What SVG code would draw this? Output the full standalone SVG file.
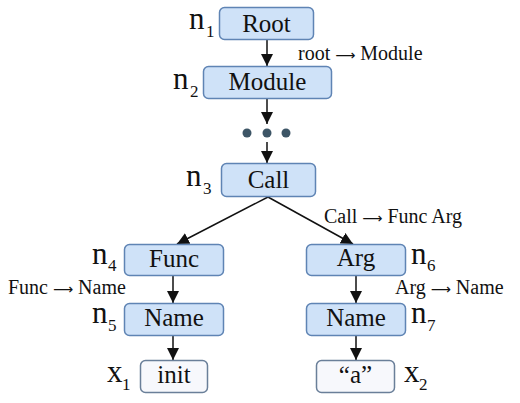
<svg xmlns="http://www.w3.org/2000/svg" width="520" height="403" viewBox="0 0 520 403">
<style>
.nb{fill:#cfe2f8;stroke:#5f84b4;stroke-width:1.5}
.lb{fill:#f7f8fc;stroke:#6a7f99;stroke-width:1.5}
.t{font-family:"Liberation Serif","Times New Roman",serif;fill:#111;}
.bt{font-size:25px;text-anchor:middle}
.el{font-size:20px}
.ar{font-family:"DejaVu Sans",sans-serif;font-size:14px}
.n{font-size:31px}
.s{font-size:17px}
.c line{stroke:#111;stroke-width:1.5;marker-end:url(#ah)}
</style>
<defs>
<marker id="ah" viewBox="0 0 12 12" refX="12" refY="6" markerWidth="12" markerHeight="12" markerUnits="userSpaceOnUse" orient="auto">
<path d="M0,0 L12,6 L0,12 z" fill="#111"/>
</marker>
</defs>
<rect width="520" height="403" fill="#fff"/>
<g class="c" id="connectors">
<line x1="267" y1="40" x2="267" y2="66"/>
<line x1="267" y1="99" x2="267" y2="124"/>
<line x1="267" y1="142" x2="267" y2="163"/>
<line x1="268" y1="197" x2="177" y2="244"/>
<line x1="268" y1="197" x2="353" y2="244"/>
<line x1="173" y1="276" x2="173" y2="303"/>
<line x1="173" y1="336" x2="173" y2="360"/>
<line x1="356" y1="276" x2="356" y2="303"/>
<line x1="356" y1="335" x2="356" y2="360"/>
</g>
<g id="dots" fill="#3d5566">
<circle cx="247" cy="133" r="4.5"/>
<circle cx="267" cy="133" r="4.5"/>
<circle cx="286" cy="133" r="4.5"/>
</g>
<g id="root">
<rect class="nb" x="219.5" y="7.5" width="94" height="32" rx="5"/>
<text class="t bt" x="266.5" y="32">Root</text>
<text class="t n" x="189" y="29">n</text><text class="t s" x="206" y="37">1</text>
</g>
<g id="module">
<rect class="nb" x="203.5" y="66.5" width="128" height="32" rx="5"/>
<text class="t bt" x="267.5" y="90">Module</text>
<text class="t n" x="173" y="89">n</text><text class="t s" x="190" y="97">2</text>
</g>
<g id="call">
<rect class="nb" x="221.5" y="163.5" width="94" height="33" rx="5"/>
<text class="t bt" x="268.5" y="188">Call</text>
<text class="t n" x="186" y="186">n</text><text class="t s" x="203" y="194">3</text>
</g>
<g id="func">
<rect class="nb" x="124.5" y="244.5" width="99" height="31" rx="5"/>
<text class="t bt" x="174" y="267">Func</text>
<text class="t n" x="92" y="264">n</text><text class="t s" x="108" y="271">4</text>
</g>
<g id="name1">
<rect class="nb" x="124.5" y="303.5" width="99" height="32" rx="5"/>
<text class="t bt" x="174" y="326">Name</text>
<text class="t n" x="92" y="323">n</text><text class="t s" x="108" y="331">5</text>
</g>
<g id="init">
<rect class="lb" x="140.5" y="360.5" width="67" height="32" rx="5"/>
<text class="t bt" x="174" y="383">init</text>
<text class="t n" x="107" y="382">x</text><text class="t s" x="122" y="390">1</text>
</g>
<g id="arg">
<rect class="nb" x="306.5" y="244.5" width="99" height="31" rx="5"/>
<text class="t bt" x="356" y="266">Arg</text>
<text class="t n" x="411" y="264">n</text><text class="t s" x="427" y="271">6</text>
</g>
<g id="name2">
<rect class="nb" x="306.5" y="303.5" width="99" height="32" rx="5"/>
<text class="t bt" x="356" y="326">Name</text>
<text class="t n" x="411" y="323">n</text><text class="t s" x="427" y="331">7</text>
</g>
<g id="a">
<rect class="lb" x="316.5" y="360.5" width="78" height="32" rx="5"/>
<text class="t bt" x="355.5" y="383">“a”</text>
<text class="t n" x="404" y="382">x</text><text class="t s" x="419" y="390">2</text>
</g>
<g id="edge-labels">
<text class="t el" x="298" y="60">root <tspan class="ar">⟶</tspan> Module</text>
<text class="t el" x="324" y="223">Call <tspan class="ar">⟶</tspan> Func Arg</text>
<text class="t el" x="8" y="294">Func <tspan class="ar">⟶</tspan> Name</text>
<text class="t el" x="395" y="294">Arg <tspan class="ar">⟶</tspan> Name</text>
</g>
</svg>
